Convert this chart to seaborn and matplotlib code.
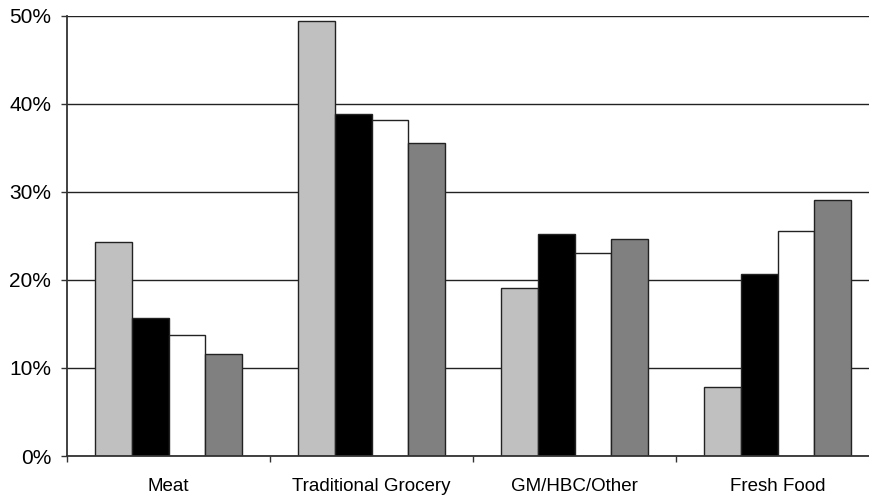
import seaborn as sns
import matplotlib.pyplot as plt
import pandas as pd
from matplotlib.ticker import FuncFormatter

# values (percent)
categories = ['Meat', 'Traditional Grocery', 'GM/HBC/Other', 'Fresh Food']
series_names = ['Series 1', 'Series 2', 'Series 3', 'Series 4']
series_1 = [24.3, 49.4, 19.1, 7.8]
series_2 = [15.7, 38.8, 25.2, 20.7]
series_3 = [13.7, 38.1, 23.1, 25.6]
series_4 = [11.6, 35.5, 24.6, 29.1]
bar_colors = ['#C0C0C0', '#000000', '#FFFFFF', '#808080']
y_ticks = [0, 10, 20, 30, 40, 50]

rows = []
for name, vals in zip(series_names, [series_1, series_2, series_3, series_4]):
    for cat, v in zip(categories, vals):
        rows.append({'category': cat, 'series': name, 'value': v})
df = pd.DataFrame(rows)

sns.set_style('white')
plt.rcParams['font.family'] = ['Liberation Sans', 'DejaVu Sans']

fig = plt.figure(figsize=(8.7, 4.99), dpi=100)
ax = fig.add_axes([67 / 870, 43 / 499, 812 / 870, 440.3 / 499])

sns.barplot(data=df, x='category', y='value', hue='series', order=categories,
            hue_order=series_names, palette=dict(zip(series_names, bar_colors)),
            width=0.727, gap=0, edgecolor='#222222', linewidth=1.0,
            legend=False, ax=ax, zorder=2)

ax.set_xlim(-0.5, 3.5)
ax.set_ylim(0, 50)
ax.set_yticks(y_ticks)
ax.yaxis.set_major_formatter(FuncFormatter(lambda v, p: f'{v:.0f}%'))
ax.grid(axis='y', color='#222222', linewidth=1.0)
ax.set_axisbelow(True)
ax.set_xlabel('')
ax.set_ylabel('')

for s in ['top', 'right']:
    ax.spines[s].set_visible(False)
for s in ['left', 'bottom']:
    ax.spines[s].set_color('#333333')
    ax.spines[s].set_linewidth(1.3)

ax.set_xticks([-0.5, 0.5, 1.5, 2.5, 3.5], minor=True)
ax.tick_params(axis='x', which='major', length=0, pad=16, labelsize=13.5, labelcolor='black')
ax.tick_params(axis='x', which='minor', length=4.5, width=1, color='#333333', direction='out', bottom=True)
ax.tick_params(axis='y', which='major', length=4.5, width=1, color='#333333', direction='out',
               left=True, pad=7, labelsize=15, labelcolor='black')

fig.savefig('out.png', dpi=100)
